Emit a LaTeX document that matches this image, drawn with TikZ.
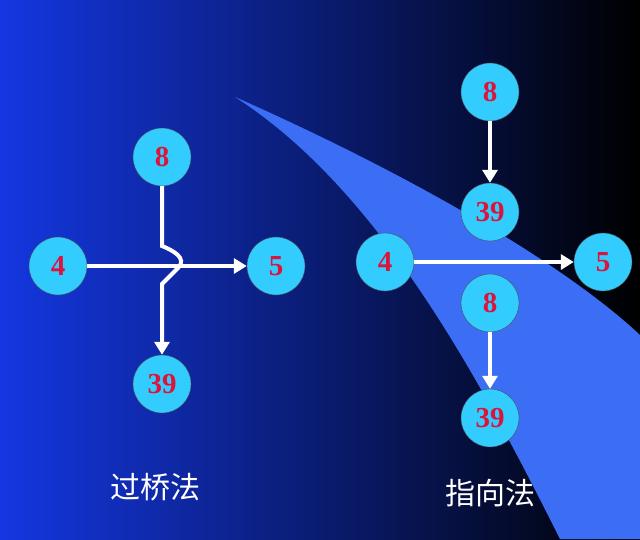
\documentclass[tikz,border=0pt]{standalone}
\usepackage{fontspec}
\setmainfont{Liberation Serif}
\newfontfamily\cjk{Noto Sans CJK SC}
\usetikzlibrary{arrows.meta}
\definecolor{cfill}{RGB}{51,204,255}
\definecolor{numred}{RGB}{220,20,60}
\definecolor{wedge}{RGB}{60,110,245}
\definecolor{bgl}{RGB}{20,55,225}
\definecolor{bgm}{RGB}{10,25,140}
\begin{document}
\begin{tikzpicture}[x=1pt,y=-1pt,
  nd/.style={circle,draw=black!70,fill=cfill,minimum size=58pt,inner sep=0pt,font=\bfseries\fontsize{29}{29}\selectfont,text=numred},
  ar/.style={white,line width=4pt,-{Triangle[length=13pt,width=15pt]}},
  lab/.style={text=white,font=\cjk\fontsize{30}{30}\selectfont}]
\useasboundingbox (0,0) rectangle (640,539);
\shade[shading angle=-60,left color=bgl,middle color=bgm,right color=black] (0,0) rectangle (640,539);
\fill[wedge] (235,97) .. controls (400,170) and (560,260) .. (640,335) -- (640,539) -- (560,539) .. controls (480,380) and (380,190) .. (235,97) -- cycle;
% left group
\node[nd] (a8) at (162,157) {8};
\node[nd] (a4) at (58,266) {4};
\node[nd] (a5) at (276,266) {5};
\node[nd] (a39) at (162,384) {39};
\draw[ar] (a4) -- (a5);
\draw[ar] (a8.south) -- (162,246) .. controls (172,250) and (188,258) .. (178,268) -- (162,284) -- (a39.north);
% right group
\node[nd] (b8) at (490,92) {8};
\node[nd] (b39) at (490,212) {39};
\node[nd] (b4) at (385,262) {4};
\node[nd] (b5) at (603,262) {5};
\node[nd] (c8) at (490,303) {8};
\node[nd] (c39) at (490,418) {39};
\draw[ar] (b8) -- (b39);
\draw[ar] (b4) -- (b5);
\draw[ar] (c8) -- (c39);
\node[lab] (t1) at (155,487) {过桥法};
\node[lab] (t2) at (490,493) {指向法};
\end{tikzpicture}
\end{document}
